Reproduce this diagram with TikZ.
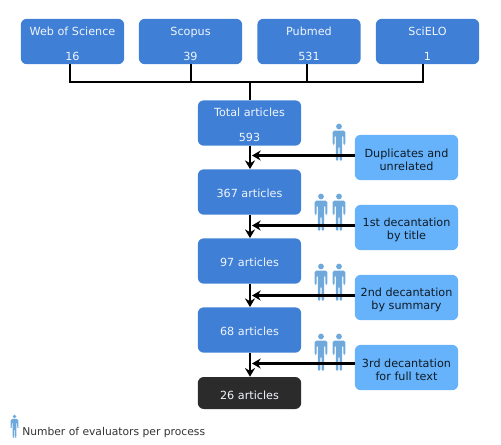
\documentclass[tikz,border=0pt]{standalone}
\usepackage{fontspec}
\setmainfont{DejaVu Sans}
\usetikzlibrary{arrows.meta, positioning}
\definecolor{boxBlue}{HTML}{3F7FD6}
\definecolor{sideBlue}{HTML}{66B3FB}
\definecolor{boxDark}{HTML}{2B2B2B}
\definecolor{personBlue}{HTML}{6FA9DC}
\newcommand{\lowered}[1]{\rule{0pt}{#1pt}}
\tikzset{
  connector/.style = {line width=2.2pt, black},
  arrowline/.style = {connector, -{Stealth[length=6.5pt,width=7.5pt]}},
  sourcebox/.style = {rectangle, rounded corners=4.5pt, fill=boxBlue, text=white!92!boxBlue,
                      minimum width=77.5pt, minimum height=34pt, inner sep=0pt,
                      align=center, font=\fontsize{8.4}{9.6}\selectfont},
  darkbox/.style   = {sourcebox, fill=boxDark, minimum height=24pt},
  sidebox/.style   = {sourcebox, fill=sideBlue, text=black!85!sideBlue},
  legendlbl/.style = {font=\fontsize{8.05}{10}\selectfont, text=black!80, inner sep=0pt},
  person/.pic      = {
    \fill[personBlue] (0,-14.5) circle (2.9);
    \fill[personBlue, rounded corners=1.2pt] (-6.3,4) -- (-6.3,-10.5) -- (6.3,-10.5)
      -- (6.3,4) -- (4.3,4) -- (4.3,-6) -- (3.2,-6) -- (3.2,20) -- (0.6,20) -- (0.6,5)
      -- (-0.6,5) -- (-0.6,20) -- (-3.2,20) -- (-3.2,-6) -- (-4.3,-6) -- (-4.3,4) -- cycle;
  },
}
\begin{document}
\begin{tikzpicture}[x=0.75pt, y=-0.75pt]
  \useasboundingbox (0,0) rectangle (501,444);
  % databases along the top
  \node[sourcebox] (web)    at (72.5,41.5)  {\lowered{9.5}Web of Science\\[9.5pt]16};
  \node[sourcebox] (scopus) at (190.5,41.5) {\lowered{9.5}Scopus\\[9.5pt]39};
  \node[sourcebox] (pubmed) at (309,41.5)   {\lowered{9.5}Pubmed\\[9.5pt]531};
  \node[sourcebox] (scielo) at (427.5,41.5) {\lowered{9.5}SciELO\\[9.5pt]1};
  % main column
  \node[sourcebox] (total) at (249.5,123) {\lowered{9.5}Total articles\\[9.5pt]593};
  \node[sourcebox] (a367)  at (249.5,192) {\lowered{8}367 articles};
  \node[sourcebox] (a97)   at (249.5,261) {\lowered{8}97 articles};
  \node[sourcebox] (a68)   at (249.5,330) {\lowered{8}68 articles};
  \node[darkbox]   (a26)   at (249.5,393) {\lowered{9.5}26 articles};
  % decantation steps
  \node[sidebox] (dup)    at (406.5,157.5) {\lowered{9.5}Duplicates and\\unrelated};
  \node[sidebox] (first)  at (406.5,227.5) {\lowered{9.5}1st decantation\\by title};
  \node[sidebox] (second) at (406.5,297.5) {\lowered{9.5}2nd decantation\\by summary};
  \node[sidebox] (third)  at (406.5,367.5) {\lowered{9.5}3rd decantation\\for full text};
  % evaluators, the arrows pass over them
  \foreach \x/\y in {339/141, 321/211, 339/211, 321/281, 339/281, 321/351, 339/351} {
    \pic at (\x,\y) {person};
  }
  \pic[scale=0.62] at (14.5,425.5) {person};
  \node[legendlbl, anchor=base west] (legend) at (22,435) {Number of evaluators per process};
  % rail joining the databases
  \coordinate (rail) at (250,82);
  \draw[connector] (70,64) |- (rail);
  \draw[connector] (423,64) |- (rail);
  \draw[connector] (191,64) -- (191,82);
  \draw[connector] (307,64) -- (307,82);
  \draw[connector] (rail) -- (total.north -| rail);
  % flow down the column
  \draw[arrowline] (total.south -| rail) -- (a367.north -| rail);
  \draw[arrowline] (a367.south -| rail) -- (a97.north -| rail);
  \draw[arrowline] (a97.south -| rail) -- (a68.north -| rail);
  \draw[arrowline] (a68.south -| rail) -- (a26.north -| rail);
  % what each step takes out
  \foreach \from/\y in {dup/155.5, first/225.5, second/295.5, third/363.5} {
    \coordinate (tip) at (252,\y);
    \draw[arrowline] (\from.west |- tip) -- (tip);
  }
\end{tikzpicture}
\end{document}
